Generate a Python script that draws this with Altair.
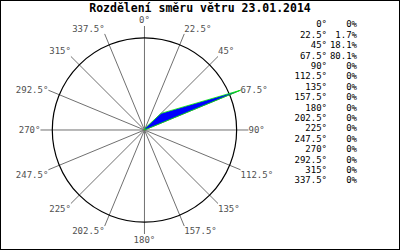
import altair as alt
import pandas as pd

# ---- data ----
angles = [0, 22.5, 45, 67.5, 90, 112.5, 135, 157.5, 180, 202.5, 225, 247.5, 270, 292.5, 315, 337.5]
angle_labels = ["0°", "22.5°", "45°", "67.5°", "90°", "112.5°", "135°", "157.5°",
                "180°", "202.5°", "225°", "247.5°", "270°", "292.5°", "315°", "337.5°"]
pct_values = [0, 1.7, 18.1, 80.1, 0, 0, 0, 0, 0, 0, 0, 0, 0, 0, 0, 0]
pct_labels = ["0%", "1.7%", "18.1%", "80.1%", "0%", "0%", "0%", "0%",
              "0%", "0%", "0%", "0%", "0%", "0%", "0%", "0%"]
title_text = "Rozdělení směru větru 23.01.2014"

df = pd.DataFrame({
    "idx": list(range(len(angles))),
    "angle": angles,
    "alabel": angle_labels,
    "pct": pct_values,
    "plabel": pct_labels,
})

# unit-circle coordinates; scale domains place the rose in the frame
xs = alt.Scale(domain=[-1.389, 2.457], nice=False, zero=False)
ys = alt.Scale(domain=[-1.154, 1.25], nice=False, zero=False)

base = alt.Chart(df).transform_calculate(
    sx="sin(datum.angle * PI / 180)",
    cy="cos(datum.angle * PI / 180)",
    zero="0",
)

spokes = base.mark_rule(color="#707070", strokeWidth=1).encode(
    x=alt.X("zero:Q", scale=xs, axis=None),
    y=alt.Y("zero:Q", scale=ys, axis=None),
    x2="sx:Q",
    y2="cy:Q",
)

circle = alt.Chart(df).transform_filter("datum.idx == 0").transform_calculate(zero="0").mark_point(
    shape="circle", filled=False, size=3.14159 * 104 * 104, stroke="black", strokeWidth=1.2, opacity=1
).encode(
    x=alt.X("zero:Q", scale=xs, axis=None),
    y=alt.Y("zero:Q", scale=ys, axis=None),
)

poly = base.transform_joinaggregate(pmax="max(pct)").transform_calculate(
    r="datum.pct / datum.pmax",
).transform_calculate(
    px="datum.r * sin(datum.angle * PI / 180)",
    py="datum.r * cos(datum.angle * PI / 180)",
).mark_line(
    interpolate="linear-closed", fill="#0000ff", stroke="#00ee00", strokeWidth=0.8
).encode(
    x=alt.X("px:Q", scale=xs, axis=None),
    y=alt.Y("py:Q", scale=ys, axis=None),
    order="idx:Q",
)

layers = [spokes, circle, poly]

# angle labels around the circle, grouped by anchoring
groups = [
    ("abs(datum.sx) < 0.01 && datum.cy > 0", "center", "bottom", -1),
    ("datum.sx > 0.01 && datum.cy > 0.5", "left", "bottom", 0),
    ("datum.sx > 0.01 && datum.cy >= -0.01 && datum.cy <= 0.5", "left", "middle", 0),
    ("datum.sx > 0.01 && datum.cy < -0.01", "left", "top", 1),
    ("abs(datum.sx) < 0.01 && datum.cy < 0", "center", "top", 2),
    ("datum.sx < -0.01 && datum.cy < -0.01", "right", "top", 1),
    ("datum.sx < -0.01 && datum.cy >= -0.01 && datum.cy <= 0.5", "right", "middle", 0),
    ("datum.sx < -0.01 && datum.cy > 0.5", "right", "bottom", 0),
]
for cond, al, bl, dy in groups:
    layers.append(
        base.transform_filter(cond).mark_text(
            align=al, baseline=bl, dy=dy, font="DejaVu Sans Mono", fontSize=9, color="#505050"
        ).encode(
            x=alt.X("sx:Q", scale=xs, axis=None),
            y=alt.Y("cy:Q", scale=ys, axis=None),
            text="alabel:N",
        )
    )

# table on the right
table = base.transform_calculate(ty="1.015 - 0.1 * datum.idx")
layers.append(
    table.mark_text(align="right", baseline="middle", font="DejaVu Sans Mono", fontSize=9, color="black").encode(
        x=alt.value(327),
        y=alt.Y("ty:Q", scale=ys, axis=None),
        text="alabel:N",
    )
)
layers.append(
    table.mark_text(align="right", baseline="middle", font="DejaVu Sans Mono", fontSize=9, color="black").encode(
        x=alt.value(357),
        y=alt.Y("ty:Q", scale=ys, axis=None),
        text="plabel:N",
    )
)

chart = alt.layer(*layers).properties(
    width=400,
    height=250,
    title=alt.TitleParams(
        text=title_text, font="DejaVu Sans Mono", fontSize=11.5, fontWeight="bold",
        color="black", anchor="middle", offset=-14,
    ),
    autosize=alt.AutoSizeParams(type="none"),
    padding=0,
    background="white",
).configure_view(stroke="black", strokeWidth=2)

chart.save("out.html", embed_options={"renderer": "svg", "actions": False})
